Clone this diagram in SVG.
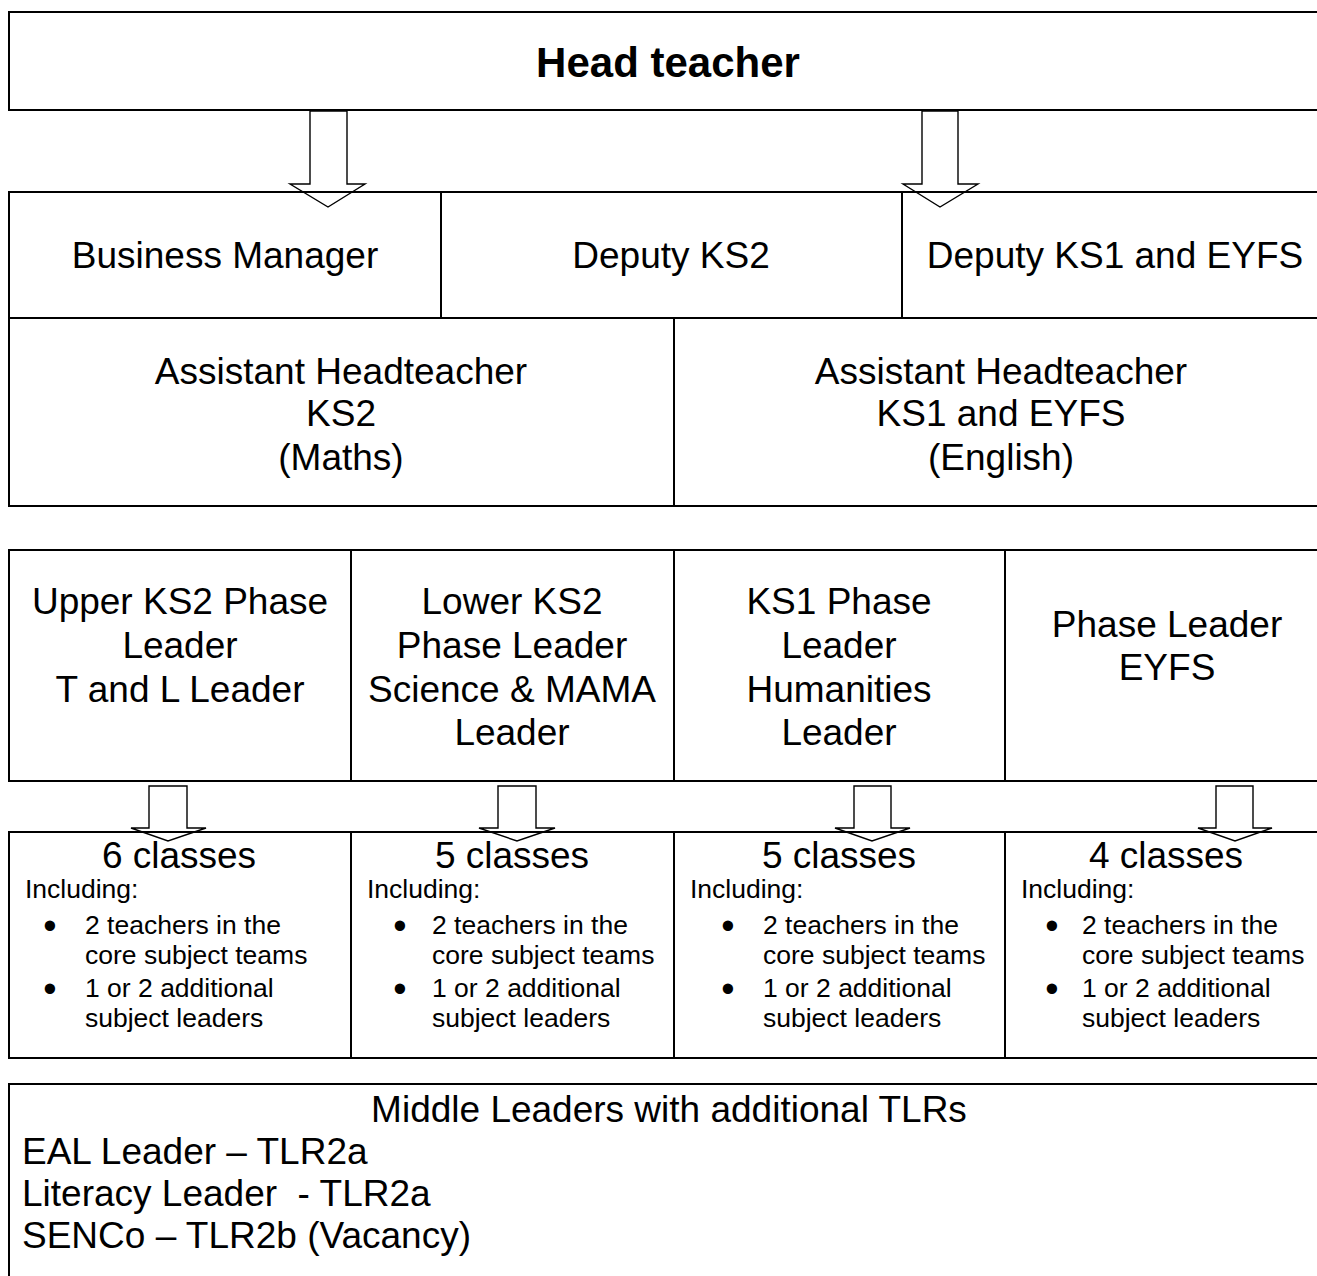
<svg xmlns="http://www.w3.org/2000/svg" width="1317" height="1276" viewBox="0 0 1317 1276">
<style>
.box{fill:none;stroke:#000;stroke-width:2}
.arr{fill:none;stroke:#000;stroke-width:1.4;stroke-linejoin:miter}
text{font-family:"Liberation Sans",Arial,sans-serif;fill:#000}
.t{font-size:37px;text-anchor:middle}
.h{font-size:42px;font-weight:bold;text-anchor:middle}
.s{font-size:26.5px}
.b{font-size:38px;text-anchor:middle}
</style>
<rect x="0" y="0" width="1317" height="1276" fill="#fff"/>
<g id="head-teacher"><rect class="box" x="9" y="12" width="1321" height="98"/><text class="h" x="668" y="77">Head teacher</text></g>
<g id="business-manager"><rect class="box" x="9" y="192" width="432" height="126"/><text class="t" x="225" y="268">Business Manager</text></g>
<g id="deputy-ks2"><rect class="box" x="441" y="192" width="461" height="126"/><text class="t" x="671" y="268">Deputy KS2</text></g>
<g id="deputy-ks1-eyfs"><rect class="box" x="902" y="192" width="428" height="126"/><text class="t" x="1115" y="268">Deputy KS1 and EYFS</text></g>
<g id="assistant-ks2"><rect class="box" x="9" y="318" width="665" height="188"/><text class="t" x="341" y="384">Assistant Headteacher</text><text class="t" x="341" y="426">KS2</text><text class="t" x="341" y="470">(Maths)</text></g>
<g id="assistant-ks1-eyfs"><rect class="box" x="674" y="318" width="656" height="188"/><text class="t" x="1001" y="384">Assistant Headteacher</text><text class="t" x="1001" y="426">KS1 and EYFS</text><text class="t" x="1001" y="470">(English)</text></g>
<g id="upper-ks2"><rect class="box" x="9" y="550" width="342" height="231"/><text class="t" x="180" y="614">Upper KS2 Phase</text><text class="t" x="180" y="658">Leader</text><text class="t" x="180" y="702">T and L Leader</text></g>
<g id="lower-ks2"><rect class="box" x="351" y="550" width="323" height="231"/><text class="t" x="512" y="614">Lower KS2</text><text class="t" x="512" y="658">Phase Leader</text><text class="t" x="512" y="702">Science &amp; MAMA</text><text class="t" x="512" y="745">Leader</text></g>
<g id="ks1-phase"><rect class="box" x="674" y="550" width="331" height="231"/><text class="t" x="839" y="614">KS1 Phase</text><text class="t" x="839" y="658">Leader</text><text class="t" x="839" y="702">Humanities</text><text class="t" x="839" y="745">Leader</text></g>
<g id="eyfs-phase"><rect class="box" x="1005" y="550" width="325" height="231"/><text class="t" x="1167" y="637">Phase Leader</text><text class="t" x="1167" y="680">EYFS</text></g>
<g id="classes-1"><rect class="box" x="9" y="832" width="342" height="226"/><text class="t" x="179" y="868">6 classes</text><text class="s" x="25" y="898">Including:</text><text class="b" x="50" y="939">•</text><text class="s" x="85" y="934">2 teachers in the</text><text class="s" x="85" y="964">core subject teams</text><text class="b" x="50" y="1002">•</text><text class="s" x="85" y="997">1 or 2 additional</text><text class="s" x="85" y="1027">subject leaders</text></g>
<g id="classes-2"><rect class="box" x="351" y="832" width="323" height="226"/><text class="t" x="512" y="868">5 classes</text><text class="s" x="367" y="898">Including:</text><text class="b" x="400" y="939">•</text><text class="s" x="432" y="934">2 teachers in the</text><text class="s" x="432" y="964">core subject teams</text><text class="b" x="400" y="1002">•</text><text class="s" x="432" y="997">1 or 2 additional</text><text class="s" x="432" y="1027">subject leaders</text></g>
<g id="classes-3"><rect class="box" x="674" y="832" width="331" height="226"/><text class="t" x="839" y="868">5 classes</text><text class="s" x="690" y="898">Including:</text><text class="b" x="728" y="939">•</text><text class="s" x="763" y="934">2 teachers in the</text><text class="s" x="763" y="964">core subject teams</text><text class="b" x="728" y="1002">•</text><text class="s" x="763" y="997">1 or 2 additional</text><text class="s" x="763" y="1027">subject leaders</text></g>
<g id="classes-4"><rect class="box" x="1005" y="832" width="325" height="226"/><text class="t" x="1166" y="868">4 classes</text><text class="s" x="1021" y="898">Including:</text><text class="b" x="1052" y="939">•</text><text class="s" x="1082" y="934">2 teachers in the</text><text class="s" x="1082" y="964">core subject teams</text><text class="b" x="1052" y="1002">•</text><text class="s" x="1082" y="997">1 or 2 additional</text><text class="s" x="1082" y="1027">subject leaders</text></g>
<g id="middle-leaders"><rect class="box" x="9" y="1084" width="1321" height="210"/><text class="t" x="669" y="1122">Middle Leaders with additional TLRs</text><text style="font-size:37px" x="22" y="1164">EAL Leader – TLR2a</text><text style="font-size:37px" x="22" y="1206" xml:space="preserve">Literacy Leader  - TLR2a</text><text style="font-size:37px" x="22" y="1248">SENCo – TLR2b (Vacancy)</text></g>
<g id="connectors">
<path class="arr" d="M310,111 L347,111 L347,184 L365,184 L328,207 L290,184 L310,184 Z"/>
<path class="arr" d="M922,111 L958,111 L958,184 L978,184 L940,207 L903,184 L922,184 Z"/>
<path class="arr" d="M149,786 L187,786 L187,828 L206,828 L168,841 L131,828 L149,828 Z"/>
<path class="arr" d="M498,786 L536,786 L536,828 L555,828 L517,841 L479,828 L498,828 Z"/>
<path class="arr" d="M854,786 L891,786 L891,828 L910,828 L872,841 L835,828 L854,828 Z"/>
<path class="arr" d="M1216,786 L1253,786 L1253,828 L1272,828 L1235,841 L1198,828 L1216,828 Z"/>
</g>
</svg>
